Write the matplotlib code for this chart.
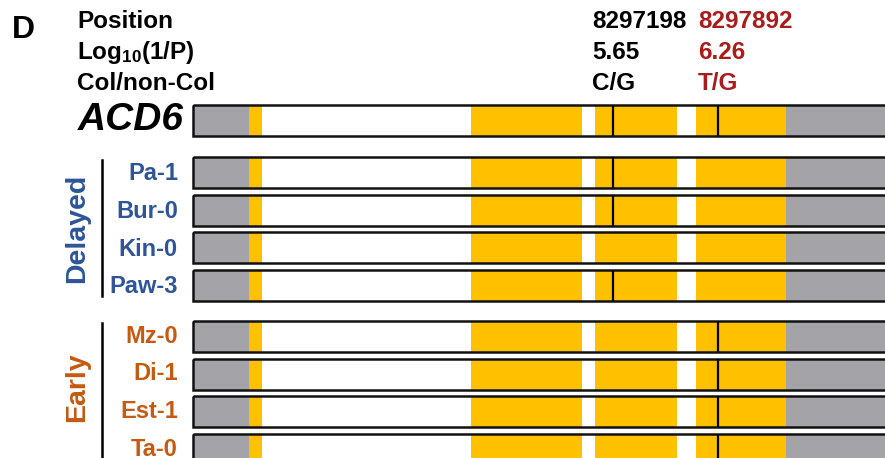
import matplotlib.pyplot as plt
from matplotlib.patches import Rectangle

plt.rcParams['font.family'] = ['Liberation Sans', 'DejaVu Sans']
plt.rcParams['mathtext.fontset'] = 'custom'
plt.rcParams['mathtext.rm'] = 'Liberation Sans:bold'
plt.rcParams['mathtext.bf'] = 'Liberation Sans:bold'

# ACD6 gene model, chromosome coordinates (bp)
gene_start = 8294422
gene_end = 8299300
utr5 = (8294422, 8294792)
exons = [(8294792, 8294878), (8296259, 8296993), (8297079, 8297621), (8297747, 8298341)]
utr3 = (8298341, 8299300)

snp_pos = [8297198, 8297892]
snp_logp = [5.65, 6.26]
snp_alleles = ["C/G", "T/G"]

delayed = ["Pa-1", "Bur-0", "Kin-0", "Paw-3"]
early = ["Mz-0", "Di-1", "Est-1", "Ta-0"]
# index of the SNPs where each accession carries the non-Col allele
delayed_snps = [[0], [0], [], [0]]
early_snps = [[1], [1], [1], [1]]

GRAY = "#A3A3A8"
GOLD = "#FFC000"
BLUE = "#2F5597"
ORANGE = "#C55A11"
RED = "#A81C1C"

W, H = 885, 458
fig = plt.figure(figsize=(W / 100, H / 100), dpi=100)
ax = fig.add_axes([0, 0, 1, 1])
ax.axis("off")

# horizontal scale: 105 px between the two SNPs
bp_per_px = (snp_pos[1] - snp_pos[0]) / 105
x0 = snp_pos[0] - 613 * bp_per_px
ax.set_xlim(x0, x0 + W * bp_per_px)
ax.set_ylim(H, 0)


def px(x, y):
    return x / W, 1 - y / H


def draw_gene(yc, snps):
    h = 31
    y = yc - h / 2
    ax.add_patch(Rectangle((utr5[0], y), utr5[1] - utr5[0], h, fc=GRAY, ec="none"))
    ax.add_patch(Rectangle((utr3[0], y), utr3[1] - utr3[0], h, fc=GRAY, ec="none"))
    for s, e in exons:
        ax.add_patch(Rectangle((s, y), e - s, h, fc=GOLD, ec="none"))
    ax.add_patch(Rectangle((gene_start, y), gene_end - gene_start, h,
                           fill=False, ec="#111111", lw=1.8))
    for i in snps:
        ax.plot([snp_pos[i], snp_pos[i]], [y, y + h], color="black", lw=1.6,
                solid_capstyle="butt")


# reference gene (Col) carries both SNPs
draw_gene(120.5, [0, 1])

pitch = 37.5
rows_delayed = [172.5 + i * pitch for i in range(len(delayed))]
rows_early = [rows_delayed[-1] + 51.5 + i * pitch for i in range(len(early))]

for name, yc, snps in zip(delayed, rows_delayed, delayed_snps):
    draw_gene(yc, snps)
    fig.text(*px(178, yc + 1.5), name, ha="right", va="center", color=BLUE,
             fontsize=17, fontweight="bold")
for name, yc, snps in zip(early, rows_early, early_snps):
    draw_gene(yc, snps)
    fig.text(*px(178, yc), name, ha="right", va="center", color=ORANGE,
             fontsize=17, fontweight="bold")

# group brackets
fig.add_artist(plt.Line2D([102 / W] * 2, [1 - 160 / H, 1 - 296 / H], color="black", lw=1.8))
fig.add_artist(plt.Line2D([102 / W] * 2, [1 - 323 / H, 1 - 470 / H], color="black", lw=1.8))
fig.text(*px(77, 228), "Delayed", rotation=90, ha="center", va="center",
         color=BLUE, fontsize=20.5, fontweight="bold")
fig.text(*px(77, 387), "Early", rotation=90, ha="center", va="center",
         color=ORANGE, fontsize=20.5, fontweight="bold")

# header block
fig.text(*px(12, 30), "D", ha="left", va="center", fontsize=23, fontweight="bold")
fig.text(*px(77, 22), "Position", ha="left", va="center", fontsize=17.5, fontweight="bold")
fig.text(*px(77, 52.5), r"$\mathbf{Log_{10}(1/P)}$", ha="left", va="center", fontsize=17.5)
fig.text(*px(77, 83.5), "Col/non-Col", ha="left", va="center", fontsize=17.5, fontweight="bold")
fig.text(*px(78, 120), "ACD6", ha="left", va="center", fontsize=28,
         fontweight="bold", style="italic")

for xcol, pos, lp, al, col in zip([592, 698], snp_pos, snp_logp, snp_alleles, ["black", RED]):
    fig.text(*px(xcol, 22), str(pos), ha="left", va="center", color=col,
             fontsize=17.5, fontweight="bold")
    fig.text(*px(xcol, 52.5), f"{lp:.2f}", ha="left", va="center", color=col,
             fontsize=17.5, fontweight="bold")
    fig.text(*px(xcol, 83.5), al, ha="left", va="center", color=col,
             fontsize=17.5, fontweight="bold")

fig.savefig("out.png", dpi=100)
